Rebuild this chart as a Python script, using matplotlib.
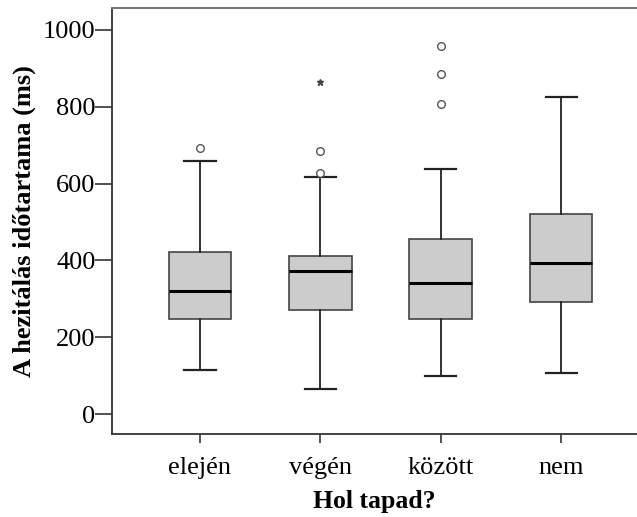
import matplotlib
matplotlib.use("Agg")
import matplotlib.pyplot as plt

# Hesitation duration (ms) by where the speaker gets stuck
categories = ["elején", "végén", "között", "nem"]
medians = [320, 372, 340, 392]
q1 = [247, 271, 247, 291]
q3 = [422, 412, 455, 521]
whisker_low = [115, 64, 100, 108]
whisker_high = [660, 617, 637, 825]
outliers = [[693], [628, 684], [806, 885, 959], []]
extremes = [[], [865], [], []]

yticks = [0, 200, 400, 600, 800, 1000]

plt.rcParams["font.family"] = ["Liberation Serif", "DejaVu Serif"]

fig = plt.figure(figsize=(6.37, 5.17), dpi=100)
ax = fig.add_axes([0.176, 0.1605, 0.824, 0.824])

stats = []
for i, name in enumerate(categories):
    stats.append({
        "label": name,
        "med": medians[i],
        "q1": q1[i],
        "q3": q3[i],
        "whislo": whisker_low[i],
        "whishi": whisker_high[i],
        "fliers": outliers[i],
    })

positions = list(range(len(categories)))
ax.bxp(
    stats,
    positions=positions,
    widths=0.52,
    patch_artist=True,
    showfliers=True,
    boxprops=dict(facecolor="#cccccc", edgecolor="#444444", linewidth=1.2),
    medianprops=dict(color="black", linewidth=2.2),
    whiskerprops=dict(color="#222222", linewidth=1.3),
    capprops=dict(color="#222222", linewidth=1.6),
    capwidths=0.26,
    flierprops=dict(marker="o", markersize=5.5, markerfacecolor="white",
                    markeredgecolor="#555555", markeredgewidth=1.0, linestyle="none"),
)

# extreme values drawn as stars
for i, vals in enumerate(extremes):
    if vals:
        ax.plot([positions[i]] * len(vals), vals, linestyle="none", marker="*",
                markersize=5, color="#444444")

ax.set_xlim(-0.73, 3.63)
ax.set_ylim(-52, 1057)
ax.set_yticks(yticks)
ax.set_yticklabels([str(v) for v in yticks])
ax.set_xticks(positions)
ax.set_xticklabels(categories)

ax.tick_params(axis="y", length=12, width=1.2, colors="#333333", labelsize=19,
               labelcolor="black", pad=0)
ax.tick_params(axis="x", length=6.5, width=1.2, colors="#333333", labelsize=19,
               labelcolor="black", pad=10)

ax.spines["right"].set_visible(False)
ax.spines["top"].set_color("#777777")
ax.spines["top"].set_linewidth(1.5)
for side in ("left", "bottom"):
    ax.spines[side].set_color("#333333")
    ax.spines[side].set_linewidth(1.3)

ax.set_ylabel("A hezitálás időtartama (ms)", fontsize=19, fontweight="bold", labelpad=5)
ax.set_xlabel("Hol tapad?", fontsize=18.5, fontweight="bold", labelpad=8)

fig.savefig("out.png", dpi=100)
